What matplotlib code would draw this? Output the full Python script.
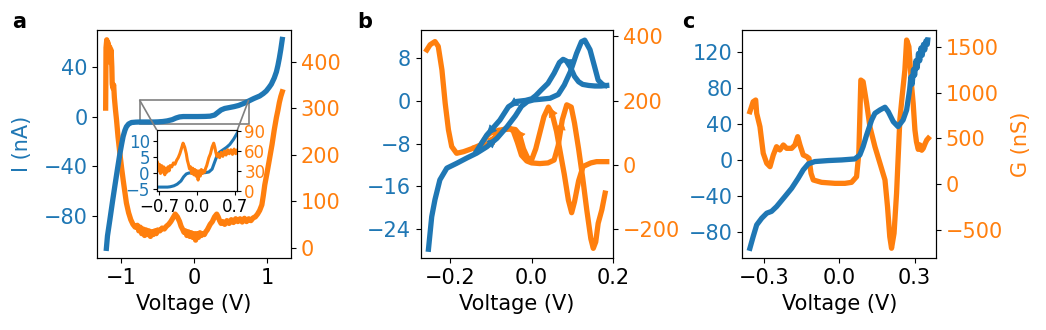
import matplotlib
matplotlib.use("Agg")
import matplotlib.pyplot as plt
from mpl_toolkits.axes_grid1.inset_locator import mark_inset

# ---------------- data ----------------
# panel a: current
va_i = [-1.205, -1.19, -1.157, -1.12, -1.089, -1.055, -1.02, -0.995, -0.975, -0.95, -0.93, -0.9,
        -0.86, -0.8, -0.75, -0.65, -0.55, -0.5, -0.43, -0.37, -0.3, -0.25, -0.2, -0.15, -0.05,
        0.05, 0.15, 0.22, 0.28, 0.33, 0.37, 0.42, 0.49, 0.55, 0.61, 0.68, 0.75, 0.82, 0.9, 0.95,
        0.99, 1.03, 1.06, 1.1, 1.13, 1.15, 1.17, 1.19, 1.21]
ia = [-106, -96, -83, -68, -56, -43, -30, -22, -16, -11, -8.2, -6.0, -4.8, -4.5, -4.4, -4.4, -4.4,
      -4.3, -4.0, -3.5, -2.5, -1.2, -0.3, 0.0, 0.0, 0.0, 0.1, 0.3, 1.2, 3.5, 5.3, 6.5, 7.3, 8.0,
      8.9, 10.5, 12.5, 14.5, 16.5, 18.5, 20.5, 23.5, 26, 31, 36, 41, 47, 54, 62]
# panel a: conductance
va_g = [-1.215, -1.21, -1.2, -1.19, -1.18, -1.17, -1.16, -1.15, -1.14, -1.13, -1.125, -1.115,
        -1.105, -1.095, -1.08, -1.066, -1.045, -1.02, -0.995, -0.975, -0.95, -0.93, -0.9, -0.87,
        -0.84, -0.81, -0.78, -0.76, -0.74, -0.72, -0.7, -0.68, -0.66, -0.64, -0.62, -0.6, -0.58,
        -0.56, -0.54, -0.52, -0.5, -0.47, -0.44, -0.41, -0.38, -0.35, -0.32, -0.29, -0.26, -0.23,
        -0.2, -0.18, -0.16, -0.14, -0.12, -0.1, -0.08, -0.06, -0.04, -0.02, 0.0, 0.02, 0.04, 0.06,
        0.08, 0.1, 0.12, 0.14, 0.16, 0.18, 0.2, 0.22, 0.25, 0.28, 0.31, 0.33, 0.35, 0.37, 0.39,
        0.42, 0.45, 0.48, 0.51, 0.54, 0.57, 0.6, 0.63, 0.66, 0.69, 0.72, 0.75, 0.78, 0.81, 0.84,
        0.87, 0.9, 0.93, 0.95, 0.97, 1.0, 1.034, 1.07, 1.1, 1.13, 1.15, 1.17, 1.19, 1.21]
ga = [300, 430, 447, 418, 440, 408, 432, 398, 425, 388, 352, 343,
      350, 322, 296, 275, 238, 203, 170, 146, 118, 96, 75, 60,
      50, 44, 48, 36, 44, 30, 40, 26, 38, 28, 36, 24, 34,
      28, 36, 30, 38, 36, 42, 40, 46, 50, 56, 64, 72, 66,
      56, 46, 40, 33, 36, 26, 34, 24, 32, 22, 30, 16, 30, 22,
      32, 26, 30, 28, 34, 38, 44, 50, 56, 66, 72, 66, 58, 52, 56,
      50, 58, 52, 60, 54, 62, 56, 62, 55, 63, 56, 62, 58, 64, 66,
      72, 80, 92, 112, 135, 160, 190, 222, 253, 280, 295, 312, 325, 335]

# panel b: forward sweep
vb_f_i = [-0.253, -0.245, -0.237, -0.225, -0.208, -0.184, -0.159, -0.135, -0.11, -0.085, -0.06,
          -0.04, -0.025, -0.01, 0.005, 0.02, 0.045, 0.065, 0.08, 0.095, 0.11, 0.122, 0.13, 0.143,
          0.155, 0.163, 0.175, 0.18]
ib_f = [-27.8, -21.7, -18.5, -14.8, -12.6, -11.7, -10.7, -9.8, -8.6, -7.0, -4.8, -2.8, -1.0, -0.1,
        0.2, 0.3, 0.5, 1.2, 3.0, 5.5, 8.9, 11.1, 11.4, 9.6, 6.2, 3.9, 3.0, 2.9]
# panel b: backward sweep
vb_b_i = [0.184, 0.17, 0.155, 0.14, 0.125, 0.115, 0.105, 0.095, 0.085, 0.077, 0.068, 0.055, 0.04,
          0.024, 0.01, 0.0, -0.015, -0.037, -0.057, -0.078, -0.11, -0.135]
ib_b = [2.9, 2.8, 2.8, 2.9, 3.1, 3.6, 4.6, 6.3, 7.5, 7.8, 7.2, 5.2, 3.3, 2.1, 1.0, 0.4, 0.1, -0.1,
        -1.1, -3.6, -6.4, -9.4]
vb_f_g = [-0.257, -0.249, -0.237, -0.229, -0.22, -0.212, -0.204, -0.196, -0.184, -0.167, -0.143,
          -0.118, -0.1, -0.085, -0.07, -0.055, -0.045, -0.035, -0.025, -0.012, 0.0, 0.02, 0.04,
          0.055, 0.065, 0.075, 0.086, 0.097, 0.105, 0.115, 0.125, 0.135, 0.145, 0.151, 0.157,
          0.163, 0.172, 0.18]
gb_f = [358, 374, 384, 369, 296, 192, 109, 57, 36, 41, 52, 57, 72, 95, 110, 115, 105, 70, 30, 12,
        6, 4, 6, 15, 60, 140, 187, 180, 130, 50, -40, -140, -230, -260, -240, -182, -140, -88]
vb_b_g = [0.184, 0.17, 0.159, 0.145, 0.126, 0.115, 0.105, 0.098, 0.09, 0.08, 0.07, 0.061, 0.05,
          0.041, 0.03, 0.02, 0.01, 0.0, -0.01, -0.02, -0.03, -0.04, -0.05, -0.065, -0.08, -0.1,
          -0.11, -0.125, -0.14]
gb_b = [10, 10, 10, 6, -5, -50, -115, -149, -110, -30, 40, 104, 160, 180, 150, 100, 50, 16, 22,
        50, 95, 110, 112, 110, 108, 100, 90, 62, 54]

# panel c
vc_i = [-0.355, -0.342, -0.328, -0.308, -0.288, -0.269, -0.249, -0.216, -0.189, -0.163, -0.143,
        -0.123, -0.097, -0.044, 0.01, 0.062, 0.082, 0.095, 0.109, 0.129, 0.142, 0.162, 0.182,
        0.195, 0.215, 0.234, 0.254, 0.268, 0.28, 0.285, 0.29, 0.295, 0.3, 0.305, 0.31, 0.315,
        0.32, 0.325, 0.33, 0.335, 0.34, 0.345, 0.35, 0.352]
ic = [-97.9, -85, -72, -64.6, -59, -57, -51.7, -40.6, -31.4, -20.3, -11, -4.4, -1.8, -0.7, 0,
      1.1, 5.5, 14.8, 27.7, 44.3, 51.7, 55.4, 58.4, 53.5, 42.4, 36.9, 44.3, 55.4, 78, 92, 84,
      100, 94, 110, 102, 118, 110, 124, 116, 128, 122, 132, 128, 133]
vc_g = [-0.355, -0.342, -0.332, -0.328, -0.315, -0.302, -0.288, -0.275, -0.262, -0.249, -0.236,
        -0.222, -0.209, -0.189, -0.176, -0.165, -0.156, -0.143, -0.129, -0.12, -0.112, -0.103,
        -0.07, -0.017, 0.023, 0.049, 0.069, 0.078, 0.086, 0.095, 0.109, 0.122, 0.142, 0.162,
        0.182, 0.192, 0.201, 0.208, 0.218, 0.228, 0.241, 0.25, 0.261, 0.268, 0.277, 0.288, 0.294,
        0.301, 0.307, 0.314, 0.321, 0.328, 0.334, 0.341, 0.348, 0.354]
gc = [793, 902, 921, 775, 628, 337, 227, 190, 318, 409, 373, 428, 391, 391, 428, 519, 428, 318,
      300, 281, 117, 44, 18, 7, 7, 18, 80, 337, 1140, 1122, 885, 628, 409, 227, 44, -249, -578,
      -705, -541, -102, 702, 957, 1250, 1579, 1506, 1067, 885, 592, 464, 380, 428, 370, 391,
      440, 482, 501]

BLUE = "#1f77b4"
ORANGE = "#ff7f0e"

plt.rcParams["font.family"] = ["DejaVu Sans"]
plt.rcParams["font.size"] = 15

fig = plt.figure(figsize=(10.46, 3.3), dpi=100)

pos_a = [0.0930, 0.2173, 0.1852, 0.6918]
pos_b = [0.4022, 0.2173, 0.1841, 0.6918]
pos_c = [0.7097, 0.2173, 0.1852, 0.6918]


def make_pair(pos):
    ax = fig.add_axes(pos)
    ax2 = ax.twinx()
    ax.set_zorder(ax2.get_zorder() + 1)
    ax.patch.set_visible(False)
    ax.tick_params(axis="y", labelcolor=BLUE)
    ax2.tick_params(axis="y", labelcolor=ORANGE)
    ax.set_xlabel("Voltage (V)")
    return ax, ax2


LW = 3.8

# ---- panel a ----
axa, axa2 = make_pair(pos_a)
axa.plot(va_i, ia, color=BLUE, lw=LW)
axa2.plot(va_g, ga, color=ORANGE, lw=LW)
axa.set_xlim(-1.33, 1.33)
axa.set_ylim(-114, 69.6)
axa2.set_ylim(-23, 468)
axa.set_xticks([-1, 0, 1])
axa.set_yticks([-80, -40, 0, 40])
axa2.set_yticks([0, 100, 200, 300, 400])
axa.set_ylabel("I (nA)", color=BLUE, labelpad=8)

axin = axa.inset_axes([0.307, 0.295, 0.416, 0.267])
axin2 = axin.twinx()
axin.set_zorder(axin2.get_zorder() + 1)
axin.patch.set_visible(False)
axin2.plot(va_g, ga, color=ORANGE, lw=2.2)
axin.plot(va_i, ia, color=BLUE, lw=2.2)
axin.set_xlim(-0.75, 0.75)
axin.set_ylim(-5.6, 13.4)
axin2.set_ylim(-0.5, 92)
axin.set_xticks([-0.7, 0.0, 0.7])
axin.set_yticks([-5, 0, 5, 10])
axin2.set_yticks([0, 30, 60, 90])
axin.tick_params(labelsize=12, length=3, pad=2)
axin.tick_params(axis="y", labelcolor=BLUE)
axin2.tick_params(labelsize=12, length=3, pad=2, labelcolor=ORANGE)
mark_inset(axa, axin, loc1=2, loc2=1, fc="none", ec="0.5", lw=1.2)

# ---- panel b ----
axb, axb2 = make_pair(pos_b)
axb.plot(vb_f_i, ib_f, color=BLUE, lw=LW)
axb.plot(vb_b_i, ib_b, color=BLUE, lw=LW)
axb2.plot(vb_f_g, gb_f, color=ORANGE, lw=LW)
axb2.plot(vb_b_g, gb_b, color=ORANGE, lw=LW)


def arrows(ax, xs, ys, idx, color):
    for i in idx:
        ax.annotate("", xy=(xs[i + 1], ys[i + 1]), xytext=(xs[i], ys[i]),
                    arrowprops=dict(arrowstyle="-|>", color=color, lw=0.5,
                                    mutation_scale=16, shrinkA=0, shrinkB=0))


arrows(axb, vb_f_i, ib_f, [8], BLUE)
arrows(axb, vb_b_i, ib_b, [8, 17, 19], BLUE)
arrows(axb2, vb_f_g, gb_f, [12, 24], ORANGE)
arrows(axb2, vb_b_g, gb_b, [12, 20, 25], ORANGE)

axb.set_xlim(-0.272, 0.2)
axb.set_ylim(-29.5, 13.3)
axb2.set_ylim(-291, 420)
axb.set_xticks([-0.2, 0.0, 0.2])
axb.set_yticks([-24, -16, -8, 0, 8])
axb2.set_yticks([-200, 0, 200, 400])

# ---- panel c ----
axc, axc2 = make_pair(pos_c)
axc.plot(vc_i, ic, color=BLUE, lw=LW)
axc2.plot(vc_g, gc, color=ORANGE, lw=LW)
axc.set_xlim(-0.385, 0.385)
axc.set_ylim(-109, 144)
axc2.set_ylim(-815, 1689)
axc.set_xticks([-0.3, 0.0, 0.3])
axc.set_yticks([-80, -40, 0, 40, 80, 120])
axc2.set_yticks([-500, 0, 500, 1000, 1500])
axc2.set_ylabel("G (nS)", color=ORANGE, labelpad=6)

for lab, x in (("a", 0.012), ("b", 0.342), ("c", 0.652)):
    fig.text(x, 0.915, lab, fontsize=15, fontweight="bold", va="baseline", ha="left")

fig.savefig("out.png", dpi=100)
